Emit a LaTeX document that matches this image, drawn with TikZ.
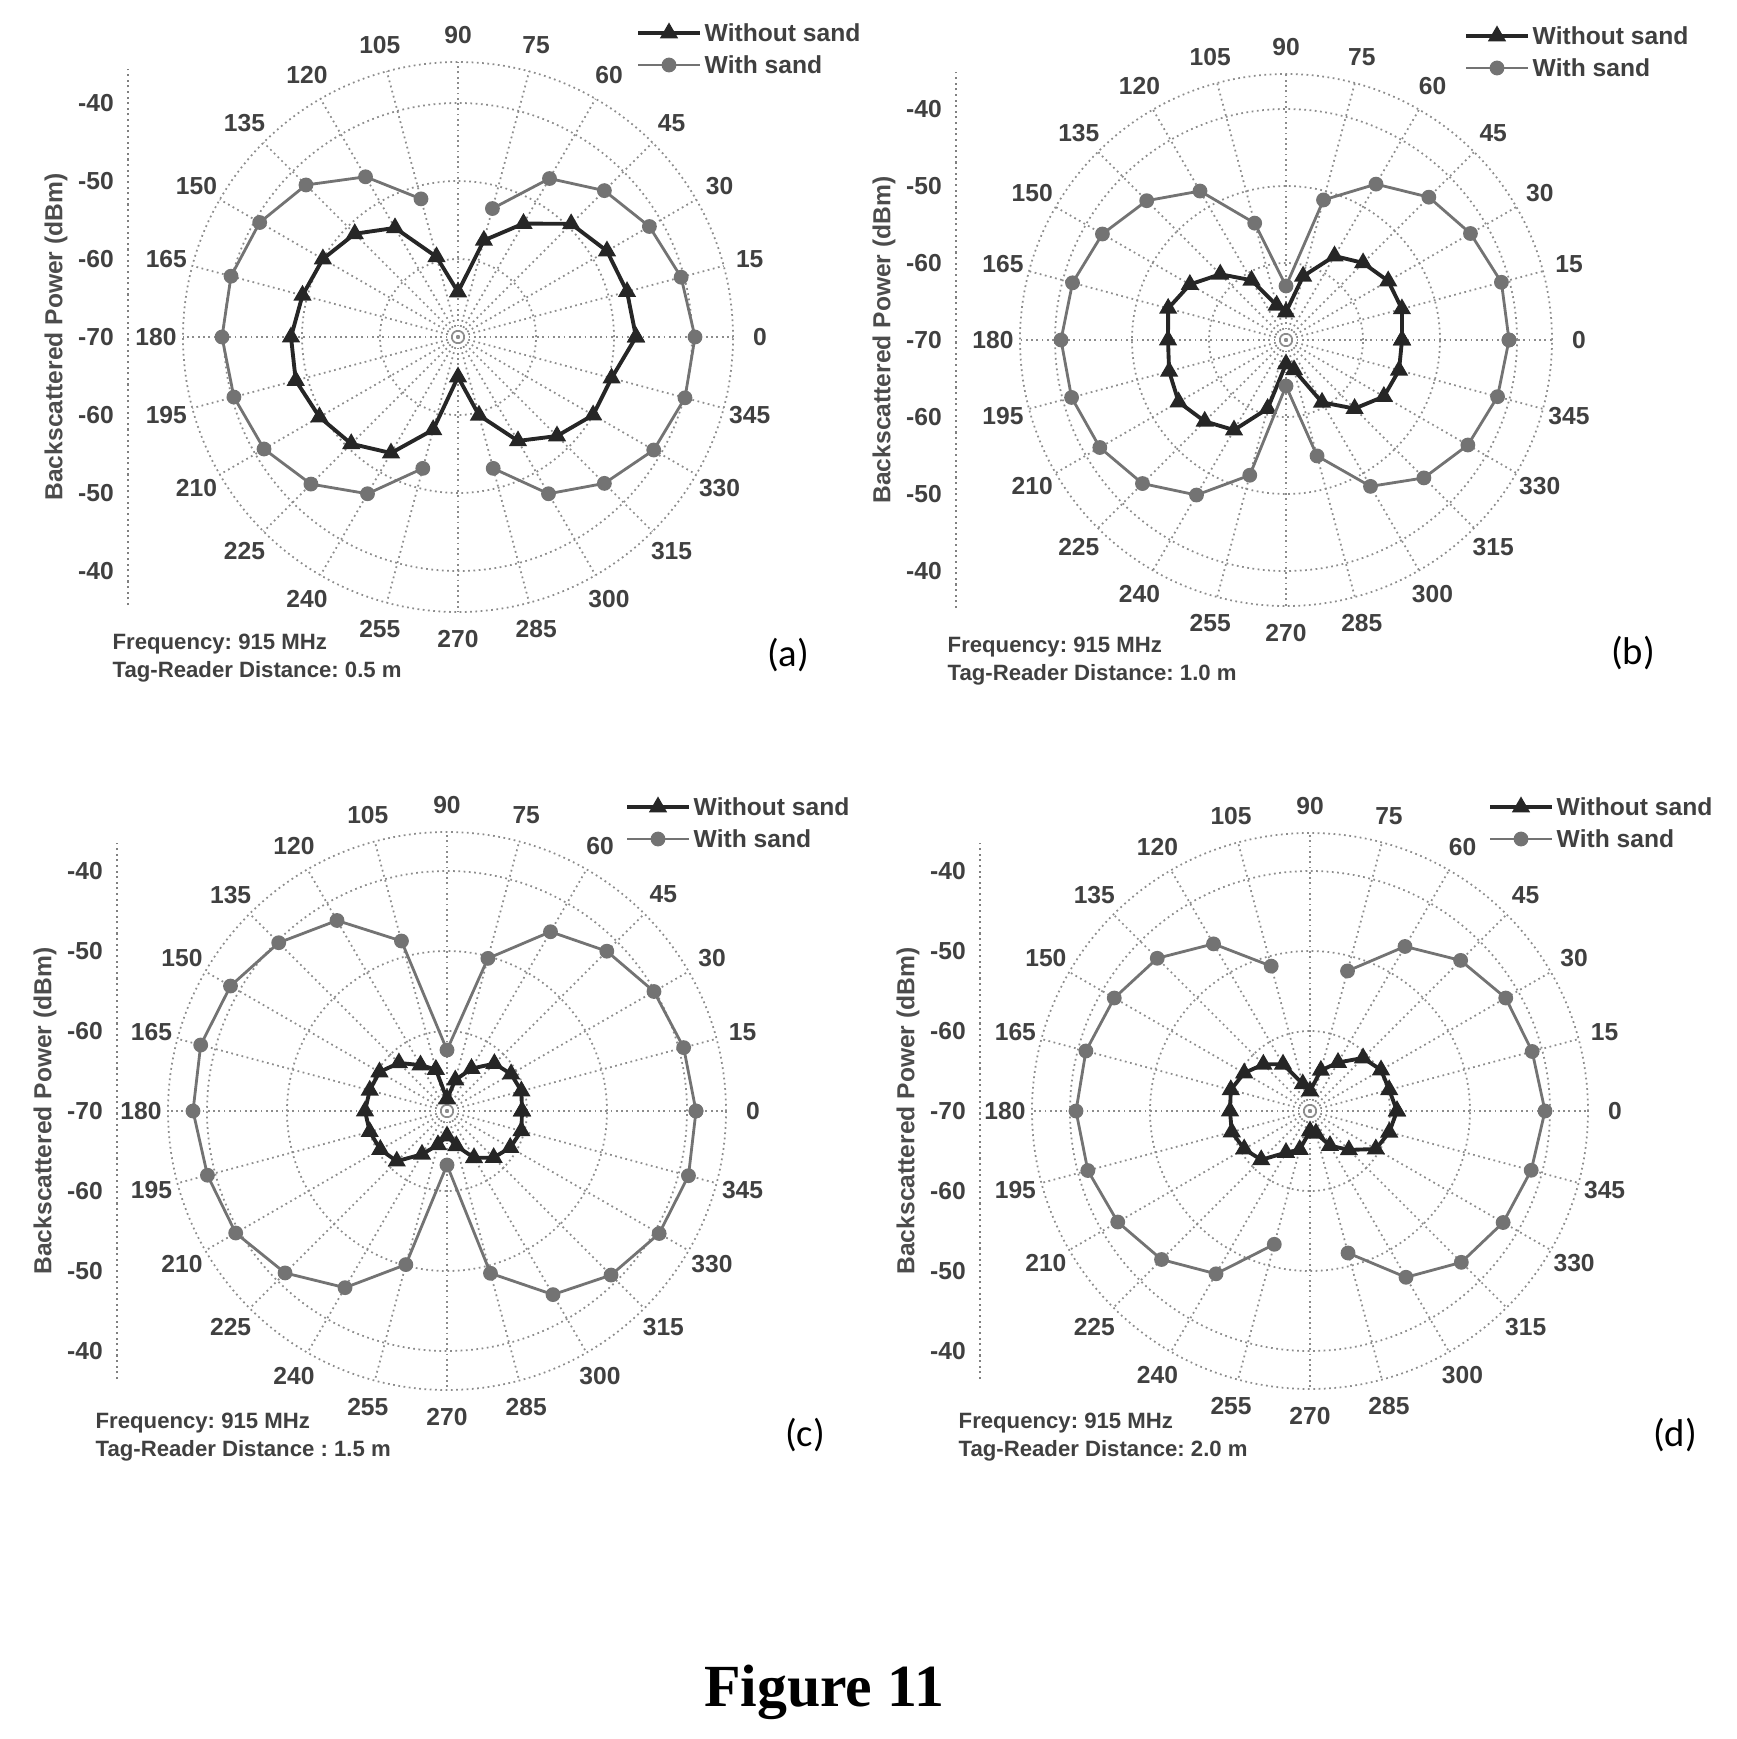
\documentclass[tikz,border=0pt]{standalone}
\usepackage{fontspec}
\setmainfont{Liberation Sans}
\newfontfamily\capfont{Carlito}
\newfontfamily\figfont{Liberation Serif}
\usetikzlibrary{calc,plotmarks}
\frenchspacing
\tikzset{
  gridline/.style={black!45, densely dotted, line width=0.5pt},
  axisline/.style={black!50, densely dotted, line width=0.6pt},
  anglab/.style={font=\fontsize{7}{8}\selectfont\bfseries, text=black!75, inner sep=0pt},
  ticklab/.style={font=\fontsize{7}{8}\selectfont\bfseries, text=black!75, inner sep=0pt},
  ytitle/.style={font=\fontsize{7}{8}\selectfont\bfseries, text=black!70, rotate=90, inner sep=0pt},
  notelab/.style={font=\fontsize{6.3}{7}\selectfont\bfseries, text=black!75, anchor=west, inner sep=0pt},
  leglab/.style={font=\fontsize{7}{8}\selectfont\bfseries, text=black!75, anchor=west, inner sep=0pt},
  panlab/.style={font=\capfont\fontsize{11}{12}\selectfont, inner sep=0pt},
  wosand/.style={black!85, line width=1.1pt, mark=triangle*, mark size=1.9pt, mark options={solid, fill=black!85}},
  wsand/.style={black!55, line width=0.8pt, mark=*, mark size=1.7pt, mark options={solid, fill=black!55}},
}
% grid of one polar panel: #1 name, #2 ring step, #3 outer radius
\newcommand{\polargrid}[3]{%
  \foreach \k in {1,2,3} \draw[gridline] (0,0) circle ({\k*#2});
  \draw[gridline] (0,0) circle (#3);
  \foreach \a in {0,15,...,345} {
    \draw[gridline] (0,0) -- (\a:#3);
    \node[anglab] (#1-\a) at (\a:{#3+27}) {\a};
  }
  \draw[axisline] (-330,-268) -- (-330,268);
  \foreach \k/\v in {3/-40,2/-50,1/-60,0/-70,-1/-60,-2/-50,-3/-40}
    \node[ticklab] (#1-t\k) at (-362,{\k*#2}) {\v};
  \node[ytitle] (#1-title) at (-402,0) {Backscattered Power (dBm)};
  \coordinate (#1-l1a) at (180,304); \coordinate (#1-l1b) at (242,304);
  \coordinate (#1-l2a) at (180,272); \coordinate (#1-l2b) at (242,272);
  \draw[wosand] plot coordinates {($(#1-l1a)!0.5!(#1-l1b)$)};
  \draw[wosand] (#1-l1a) -- (#1-l1b);
  \draw[wsand] plot coordinates {($(#1-l2a)!0.5!(#1-l2b)$)};
  \draw[wsand] (#1-l2a) -- (#1-l2b);
  \node[leglab] (#1-leg1) at (246,304) {Without sand};
  \node[leglab] (#1-leg2) at (246,272) {With sand};
}
\begin{document}
\begin{tikzpicture}[x=0.01cm, y=-0.01cm]
  \useasboundingbox (0,0) rectangle (1737,1739);

  % (a)
  \begin{scope}[shift={(458,337)}, y=0.01cm]
    \polargrid{pa}{78}{275}
    \draw[wosand] plot coordinates {(0:178) (15:175) (30:172) (45:160) (60:131) (75:100) (90:45)
      (105:83) (120:126) (135:146) (150:156) (165:161) (180:167) (195:168) (210:160) (225:151)
      (240:134) (255:96) (270:40) (285:81) (300:120) (315:140) (330:156) (345:159) (0:178)};
    \draw[wsand] plot coordinates {(285:136) (300:181) (315:207) (330:226) (345:235) (0:237)
      (15:231) (30:221) (45:207) (60:183) (75:133)};
    \draw[wsand] plot coordinates {(105:143) (120:185) (135:215) (150:229) (165:235) (180:236)
      (195:232) (210:224) (225:208) (240:181) (255:136)};
    \node[notelab] (pa-freq) at (-346,-307) {Frequency: 915 MHz};
    \node[notelab] (pa-dist) at (-346,-335) {Tag-Reader Distance: 0.5 m};
    \node[panlab] (pa-cap) at (330,-318) {(a)};
  \end{scope}

  % (b)
  \begin{scope}[shift={(1286,340)}, y=0.01cm]
    \polargrid{pb}{77}{266}
    \draw[wosand] plot coordinates {(0:116) (15:120) (30:118) (45:109) (60:97) (75:66) (90:28)
      (105:36) (120:69) (135:93) (150:111) (165:122) (180:118) (195:121) (210:124) (225:115)
      (240:104) (255:71) (270:24) (285:31) (300:72) (315:97) (330:113) (345:117) (0:116)};
    \draw[wsand] plot coordinates {(0:223) (15:223) (30:213) (45:202) (60:180) (75:145) (90:54)
      (105:121) (120:172) (135:197) (150:212) (165:221) (180:225) (195:222) (210:215) (225:203)
      (240:179) (255:140) (270:46) (285:120) (300:169) (315:195) (330:210) (345:219) (0:223)};
    \node[notelab] (pb-freq) at (-339,-307) {Frequency: 915 MHz};
    \node[notelab] (pb-dist) at (-339,-335) {Tag-Reader Distance: 1.0 m};
    \node[panlab] (pb-cap) at (347,-313) {(b)};
  \end{scope}

  % (c)
  \begin{scope}[shift={(447,1111)}, y=0.01cm]
    \polargrid{pc}{80}{279}
    \draw[wosand] plot coordinates {(0:75) (15:77) (30:74) (45:67) (60:49) (75:32) (90:12)
      (105:43) (120:53) (135:68) (150:78) (165:80) (180:82) (195:80) (210:77) (225:71)
      (240:50) (255:35) (270:25) (285:36) (300:54) (315:66) (330:73) (345:77) (0:75)};
    \draw[wsand] plot coordinates {(0:249) (15:245) (30:239) (45:226) (60:207) (75:158) (90:61)
      (105:176) (120:220) (135:238) (150:250) (165:255) (180:254) (195:248) (210:244) (225:229)
      (240:204) (255:159) (270:54) (285:168) (300:212) (315:232) (330:245) (345:250) (0:249)};
    \node[notelab] (pc-freq) at (-352,-312) {Frequency: 915 MHz};
    \node[notelab] (pc-dist) at (-352,-340) {Tag-Reader Distance : 1.5 m};
    \node[panlab] (pc-cap) at (358,-324) {(c)};
  \end{scope}

  % (d)
  \begin{scope}[shift={(1310,1111)}, y=0.01cm]
    \polargrid{pd}{80}{278}
    \draw[wosand] plot coordinates {(0:87) (15:82) (30:82) (45:75) (60:56) (75:42) (90:20)
      (105:28) (120:54) (135:66) (150:76) (165:82) (180:80) (195:81) (210:76) (225:69)
      (240:48) (255:40) (270:20) (285:23) (300:40) (315:55) (330:76) (345:82) (0:87)};
    \draw[wsand] plot coordinates {(285:147) (300:192) (315:214) (330:223) (345:229) (0:235)
      (15:230) (30:226) (45:213) (60:190) (75:145)};
    \draw[wsand] plot coordinates {(105:150) (120:193) (135:216) (150:226) (165:232) (180:234)
      (195:230) (210:222) (225:210) (240:188) (255:138)};
    \node[notelab] (pd-freq) at (-352,-312) {Frequency: 915 MHz};
    \node[notelab] (pd-dist) at (-352,-340) {Tag-Reader Distance: 2.0 m};
    \node[panlab] (pd-cap) at (365,-324) {(d)};
  \end{scope}

  \node[font=\figfont\bfseries\fontsize{17}{20}\selectfont] (figcap) at (824,1692) {Figure 11};
\end{tikzpicture}
\end{document}
